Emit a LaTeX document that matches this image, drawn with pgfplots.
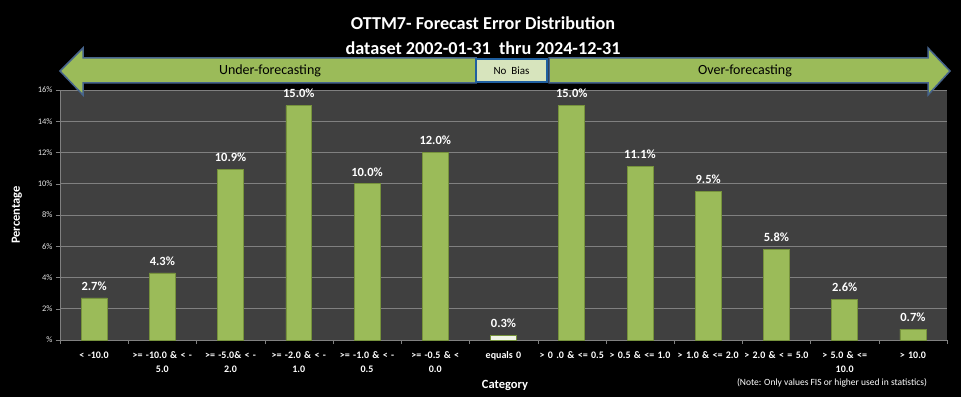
\documentclass[border=0pt]{standalone}
\usepackage{pgfplots}
\pgfplotsset{compat=1.18}
\usepackage{fontspec}
\setmainfont{Carlito}
\definecolor{bgplot}{RGB}{64,64,64}
\definecolor{barg}{RGB}{155,187,89}
\definecolor{bargd}{RGB}{118,146,60}
\definecolor{barw}{RGB}{240,244,230}
\definecolor{gridc}{RGB}{128,128,128}
\definecolor{arrowb}{RGB}{70,100,140}
\definecolor{nobiasf}{RGB}{215,228,189}
\definecolor{nobiasb}{RGB}{31,95,160}
\begin{document}
\begin{tikzpicture}
\path[use as bounding box, fill=black] (-60bp,-57bp) rectangle (901bp,340bp);
\begin{axis}[
  at={(0,0)}, anchor=south west,
  scale only axis, width=887bp, height=250bp,
  axis background/.style={fill=bgplot},
  xmin=-0.5, xmax=12.5, ymin=0, ymax=16,
  ybar, bar shift=0pt, bar width=0.38,
  axis line style={gridc},
  axis x line*=bottom, axis y line*=left,
  xtick={0,...,12},
  major x tick style={draw=none},
  minor xtick={-0.5,0.5,...,12.5},
  minor x tick style={gridc},
  minor tick length=4bp,
  tick align=outside,
  xtick pos=bottom, ytick pos=left,
  ytick={0,2,...,16},
  yticklabels={\%,2\%,4\%,6\%,8\%,10\%,12\%,14\%,16\%},
  y tick style={gridc}, major tick length=4bp,
  ymajorgrids, major grid style={gridc, line width=0.8bp},
  yticklabel style={font=\fontsize{8.5bp}{10bp}\selectfont, text=white!90!black},
  xticklabel style={font=\bfseries\fontsize{10bp}{14bp}\selectfont, text=white, text width=74bp, align=center, anchor=north, yshift=-4bp},
  xticklabels={{< -10.0},{>= -10.0 \& < -\\5.0},{>= -5.0\& < -\\2.0},{>= -2.0 \& < -\\1.0},{>= -1.0 \& < -\\0.5},{>= -0.5 \& <\\0.0},{equals 0},{> 0 .0 \& <= 0.5},{> 0.5 \& <= 1.0},{> 1.0 \& <= 2.0},{> 2.0 \& < = 5.0},{> 5.0 \& <=\\10.0},{> 10.0}},
  nodes near coords={\pgfmathprintnumber[fixed,fixed zerofill,precision=1,assume math mode=true]{\pgfplotspointmeta}\%},
  every node near coord/.append style={font=\bfseries\fontsize{12.5bp}{14bp}\selectfont, text=white, yshift=4bp},
  clip=false,
]
\addplot[fill=barg, draw=bargd, line width=0.6bp] coordinates {
(0,2.7) (1,4.3) (2,10.9) (3,15.0) (4,10.0) (5,12.0) (7,15.0) (8,11.1) (9,9.5) (10,5.8) (11,2.6) (12,0.7)};
\addplot[fill=barw, draw=bargd, line width=0.6bp] coordinates {(6,0.3)};
\end{axis}
% titles
\node[text=white, font=\bfseries\fontsize{18.2bp}{22bp}\selectfont] at (423bp,317bp) {OTTM7- Forecast Error Distribution};
\node[text=white, font=\bfseries\fontsize{18.2bp}{22bp}\selectfont] at (423bp,292bp) {dataset 2002-01-31\ \ thru 2024-12-31};
% arrows
\draw[fill=barg, draw=arrowb, line width=1.5bp, line join=miter]
  (0bp,269bp) -- (23bp,292bp) -- (23bp,282bp) -- (416bp,282bp) -- (416bp,257bp) -- (23bp,257bp) -- (23bp,245bp) -- cycle;
\draw[fill=barg, draw=arrowb, line width=1.5bp, line join=miter]
  (890bp,269bp) -- (868bp,292bp) -- (868bp,282bp) -- (489bp,282bp) -- (489bp,257bp) -- (868bp,257bp) -- (868bp,245bp) -- cycle;
\draw[fill=nobiasf, draw=nobiasb, line width=2bp] (416bp,258bp) rectangle (487bp,281bp);
\node[font=\fontsize{11bp}{13bp}\selectfont] at (451.5bp,269.5bp) {No\ \ Bias};
\node[font=\fontsize{14bp}{16bp}\selectfont] at (210bp,269bp) {Under-forecasting};
\node[font=\fontsize{14bp}{16bp}\selectfont] at (685bp,269bp) {Over-forecasting};
% axis labels
\node[text=white, font=\bfseries\fontsize{12.5bp}{14bp}\selectfont, rotate=90] at (-43bp,125bp) {Percentage};
\node[text=white, font=\bfseries\fontsize{12.5bp}{14bp}\selectfont] at (445bp,-45bp) {Category};
\node[text=white, font=\fontsize{9.5bp}{11bp}\selectfont] at (772bp,-43bp) {(Note: Only values FIS or higher used in statistics)};
\end{tikzpicture}
\end{document}
